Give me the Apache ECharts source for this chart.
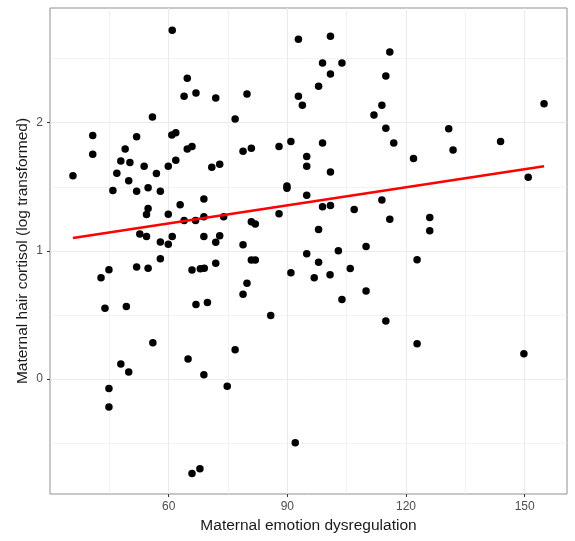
<!DOCTYPE html>
<html>
<head>
<meta charset="utf-8">
<script src="https://cdn.jsdelivr.net/npm/echarts@6.0.0/dist/echarts.min.js"></script>
<style>
html,body{margin:0;padding:0;background:#fff;}
#chart{width:575px;height:541px;}
</style>
</head>
<body>
<div id="chart"></div>
<script>
// Maternal emotion dysregulation (x) values of each point
var emotionDysregulation = [
  60.9,55.9,40.8,51.9,60.8,61.8,40.8,49.0,47.9,50.2,53.8,59.9,61.8,35.8,46.9,49.9,56.9,45.9,51.9,54.8,
  57.9,62.9,54.8,54.4,59.9,52.7,54.4,57.9,60.9,59.9,
  57.9,44.9,42.9,51.9,54.8,43.9,49.3,56.0,47.9,49.9,44.9,44.9,
  64.7,63.9,66.9,71.9,79.8,76.8,92.8,92.8,93.8,64.7,65.9,70.9,72.9,78.8,80.9,87.9,90.9,89.9,
  89.9,68.9,63.9,66.8,68.9,73.9,80.9,81.9,87.9,68.9,72.9,71.9,78.8,
  65.9,68.0,69.0,71.9,80.9,81.9,90.9,79.8,78.8,66.9,69.8,85.8,76.8,64.9,68.9,74.8,92.0,65.9,67.9,
  100.9,98.9,103.8,100.9,97.9,115.9,114.9,113.9,111.9,114.9,116.9,98.9,94.9,94.9,100.9,121.9,94.9,98.9,100.9,106.9,
  113.9,115.9,126.0,126.0,97.9,94.9,102.9,109.9,
  97.9,96.8,100.8,105.9,103.8,109.9,114.9,122.8,122.8,
  130.8,131.9,143.9,154.9,150.9,149.8
];
// Maternal hair cortisol (log transformed) (y) values of each point
var hairCortisol = [
  2.72,2.044,1.90,1.89,1.904,1.922,1.754,1.795,1.701,1.689,1.66,1.66,1.707,1.585,1.606,1.546,1.603,1.47,1.465,1.493,
  1.465,1.359,1.33,1.283,1.286,1.132,1.112,1.07,1.112,1.052,
  0.938,0.852,0.79,0.875,0.865,0.553,0.566,0.283,0.117,0.055,-0.073,-0.218,
  2.346,2.205,2.231,2.193,2.224,2.029,2.65,2.206,2.136,1.795,1.813,1.652,1.676,1.777,1.80,1.813,1.852,1.505,
  1.488,1.405,1.236,1.236,1.267,1.267,1.228,1.21,1.29,1.112,1.117,1.068,1.047,
  0.85,0.86,0.865,0.904,0.928,0.928,0.829,0.748,0.662,0.582,0.597,0.496,0.228,0.156,0.034,-0.055,-0.497,-0.736,-0.70,
  2.673,2.465,2.465,2.38,2.284,2.551,2.364,2.136,2.06,1.956,1.842,1.842,1.735,1.66,1.616,1.72,1.434,1.345,1.353,1.322,
  1.397,1.247,1.26,1.156,1.166,0.977,1.0,1.034,
  0.912,0.79,0.813,0.862,0.62,0.688,0.454,0.93,0.275,
  1.953,1.787,1.852,2.148,1.574,0.197
];
// Fitted regression line endpoints
var fitX = [35.8, 154.9];
var fitY = [1.10, 1.66];
// Tick labels / gridlines
var xTicks = [60, 90, 120, 150];
var xMinorGrid = [45, 75, 105, 135];
var yTicks = [0, 1, 2];
var yMinorGrid = [-0.5, 0.5, 1.5, 2.5];

var points = emotionDysregulation.map(function (x, i) { return [x, hairCortisol[i]]; });
var fitLine = fitX.map(function (x, i) { return [x, fitY[i]]; });

var X_MIN = 30.0, X_MAX = 160.7, Y_MIN = -0.896, Y_MAX = 2.894;
var FONT = '"Liberation Sans", Arial, sans-serif';
var chart = echarts.init(document.getElementById('chart'), null, { renderer: 'canvas' });
chart.setOption({
  animation: false,
  backgroundColor: '#ffffff',
  grid: {
    left: 50, top: 8, right: 8, bottom: 47,
    show: true, borderColor: '#8f8f8f', borderWidth: 1, backgroundColor: 'transparent'
  },
  xAxis: [{
    type: 'value', min: X_MIN, max: X_MAX,
    name: 'Maternal emotion dysregulation', nameLocation: 'middle', nameGap: 24, nameMoveOverlap: false,
    nameTextStyle: { fontFamily: FONT, fontSize: 15.5, color: '#1a1a1a' },
    axisLine: { show: false, onZero: false },
    axisTick: { show: true, customValues: xTicks, length: 3, lineStyle: { color: '#333333' } },
    axisLabel: { customValues: xTicks, margin: 7, fontFamily: FONT, fontSize: 12, color: '#4d4d4d' },
    splitLine: { show: true, lineStyle: { color: '#ebebeb', width: 1 } }
  }, {
    type: 'value', min: X_MIN, max: X_MAX, position: 'bottom',
    axisLine: { show: false, onZero: false },
    axisTick: { show: true, customValues: xMinorGrid, length: 0, lineStyle: { color: 'rgba(0,0,0,0)' } },
    axisLabel: { show: false },
    splitLine: { show: true, lineStyle: { color: '#ededed', width: 0.7 } }
  }],
  yAxis: [{
    type: 'value', min: Y_MIN, max: Y_MAX,
    name: 'Maternal hair cortisol (log transformed)', nameLocation: 'middle', nameGap: 19, nameRotate: 90,
    nameMoveOverlap: false,
    nameTextStyle: { fontFamily: FONT, fontSize: 15.5, color: '#1a1a1a' },
    axisLine: { show: false, onZero: false },
    axisTick: { show: true, customValues: yTicks, length: 3, lineStyle: { color: '#333333' } },
    axisLabel: { customValues: yTicks, margin: 7, fontFamily: FONT, fontSize: 12, color: '#4d4d4d' },
    splitLine: { show: true, lineStyle: { color: '#ebebeb', width: 1 } }
  }, {
    type: 'value', min: Y_MIN, max: Y_MAX, position: 'left',
    axisLine: { show: false, onZero: false },
    axisTick: { show: true, customValues: yMinorGrid, length: 0, lineStyle: { color: 'rgba(0,0,0,0)' } },
    axisLabel: { show: false },
    splitLine: { show: true, lineStyle: { color: '#ededed', width: 0.7 } }
  }],
  series: [
    {
      type: 'scatter', data: points, z: 3, symbol: 'circle', symbolSize: 7.5,
      itemStyle: { color: '#000000', opacity: 1 }
    },
    {
      type: 'line', data: fitLine, z: 4, symbol: 'none', smooth: false,
      lineStyle: { color: '#ff0000', width: 2.6 }
    }
  ]
});
</script>
</body>
</html>
